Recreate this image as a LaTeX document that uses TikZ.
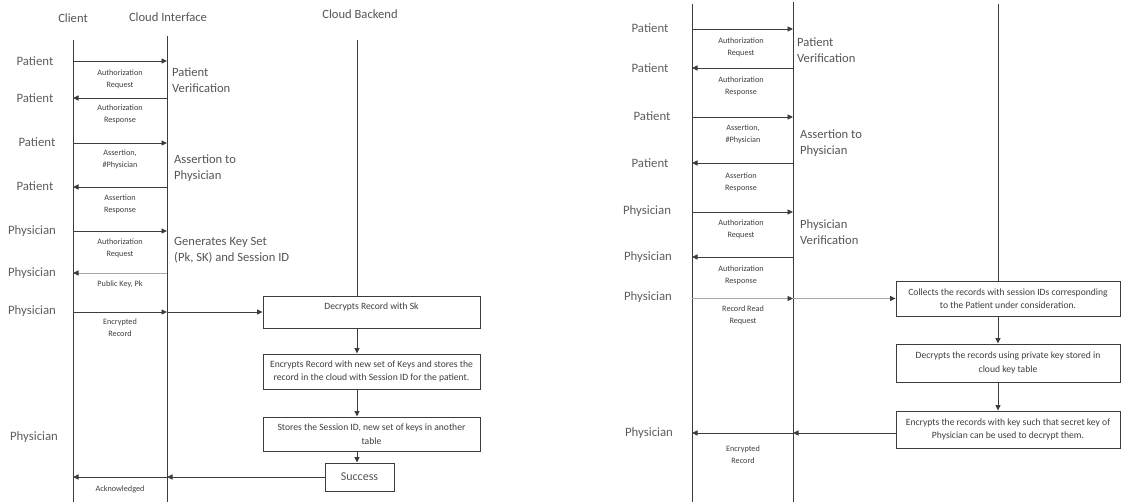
\documentclass[tikz,border=0pt]{standalone}
\usepackage{fontspec}
\setmainfont{Carlito}
\usetikzlibrary{arrows.meta}
\definecolor{linec}{HTML}{3C3C3C}
\definecolor{lightc}{HTML}{A8A8A8}
\definecolor{rolec}{HTML}{5E5E5E}
\definecolor{lblc}{HTML}{3F3F3F}
\definecolor{notec}{HTML}{555555}
\begin{document}
\begin{tikzpicture}[x=1pt,y=-1pt,
 life/.style={draw=linec,line width=0.9pt},
 msg/.style={draw=linec,line width=0.9pt,-{Triangle[length=5.5pt,width=5pt,color=linec]}},
 msglight/.style={msg,draw=lightc},
 role/.style={text=rolec,font=\fontsize{12.8}{14}\selectfont,inner sep=0pt},
 lbl/.style={text=lblc,font=\fontsize{8.2}{11.8}\selectfont,align=center,inner sep=0pt},
 note/.style={text=notec,font=\fontsize{12.6}{16}\selectfont,align=left,anchor=west,inner sep=0pt},
 head/.style={text=notec,font=\fontsize{12.6}{14}\selectfont,inner sep=0pt},
 box/.style={draw=linec,line width=0.9pt,fill=white,align=center,text=lblc,font=\fontsize{9.6}{13.5}\selectfont,inner sep=0pt}]
\useasboundingbox (0,0) rectangle (1121,502);

% ================= LEFT DIAGRAM =================
\node[head] (hC) at (73,18) {Client};
\node[head] (hI) at (168,17) {Cloud Interface};
\node[head] (hB) at (360,14) {Cloud Backend};

\coordinate (Lc0) at (73,40);  \coordinate (Lc1) at (73,502);
\coordinate (Li0) at (167,36); \coordinate (Li1) at (167,502);
\coordinate (Lb0) at (357,40);

\node[box,minimum width=217pt,minimum height=32pt] (LB1) at (371.5,312) {\raisebox{12pt}{Decrypts Record with Sk}};
\node[box,minimum width=217pt,minimum height=35pt] (LB2) at (371.5,371.5) {Encrypts Record with new set of Keys and stores the\\record in the cloud with Session ID for the patient.};
\node[box,minimum width=217pt,minimum height=34pt] (LB3) at (371.5,434) {Stores the Session ID, new set of keys in another\\table};
\node[box,minimum width=69pt,minimum height=28pt,font=\fontsize{12}{14}\selectfont,text=notec] (LS) at (359.5,477) {Success};

\draw[life] (Lc0) -- (Lc1);
\draw[life] (Li0) -- (Li1);
\draw[life] (Lb0) -- (Lb0 |- LB1.north);
\draw[msg] (LB1.south -| Lb0) -- (LB2.north -| Lb0);
\draw[msg] (LB2.south -| Lb0) -- (LB3.north -| Lb0);
\draw[msg] (LB3.south -| Lb0) -- (LS.north -| Lb0);

% rows
\foreach \n/\y in {1/61,2/98,3/143,4/187,5/231,6/273,7/312,8/477}{
  \coordinate (lc\n) at (73,\y);
  \coordinate (li\n) at (167,\y);
}
\draw[msg] (lc1) -- (li1);
\draw[msg] (li2) -- (lc2);
\draw[msg] (lc3) -- (li3);
\draw[msg] (li4) -- (lc4);
\draw[msg] (lc5) -- (li5);
\draw[msglight] (li6) -- (lc6);
\draw[msg] (lc7) -- (li7);
\draw[msg] (li7) -- (LB1.west);
\draw[msg] (LS.west) -- (li8);
\draw[msg] (li8) -- (lc8);

\node[role] (lp1) at (35,61) {Patient};
\node[role] (lp2) at (35,98) {Patient};
\node[role] (lp3) at (37,142) {Patient};
\node[role] (lp4) at (35,186) {Patient};
\node[role] (lp5) at (32,231) {Physician};
\node[role] (lp6) at (32,273) {Physician};
\node[role] (lp7) at (32,311) {Physician};
\node[role] (lp8) at (34,437) {Physician};

\node[lbl] (ll1) at (120,79) {Authorization\\Request};
\node[lbl] (ll2) at (120,114) {Authorization\\Response};
\node[lbl] (ll3) at (120,159) {Assertion,\\\#Physician};
\node[lbl] (ll4) at (120,204) {Assertion\\Response};
\node[lbl] (ll5) at (120,248) {Authorization\\Request};
\node[lbl] (ll6) at (120,284) {Public Key, Pk};
\node[lbl] (ll7) at (120,328) {Encrypted\\Record};
\node[lbl] (ll8) at (120,489) {Acknowledged};

\node[note] (ln1) at (172,80) {Patient\\Verification};
\node[note] (ln2) at (174,168) {Assertion to\\Physician};
\node[note] (ln3) at (174,250) {Generates Key Set\\(Pk, SK) and Session ID};

% ================= RIGHT DIAGRAM =================
\coordinate (Rc0) at (692,4);  \coordinate (Rc1) at (692,502);
\coordinate (Ri0) at (793,2);  \coordinate (Ri1) at (793,502);
\coordinate (Rb0) at (998,4);

\node[box,minimum width=224pt,minimum height=35pt] (RB1) at (1008,298.5) {Collects the records with session IDs corresponding\\to the Patient under consideration.};
\node[box,minimum width=224pt,minimum height=38pt] (RB2) at (1008,363) {Decrypts the records using private key stored in\\cloud key table};
\node[box,minimum width=224pt,minimum height=37pt] (RB3) at (1008,429.5) {Encrypts the records with key such that secret key of\\Physician can be used to decrypt them.};

\draw[life] (Rc0) -- (Rc1);
\draw[life] (Ri0) -- (Ri1);
\draw[life] (Rb0) -- (Rb0 |- RB1.north);
\draw[msg] (RB1.south -| Rb0) -- (RB2.north -| Rb0);
\draw[msg] (RB2.south -| Rb0) -- (RB3.north -| Rb0);

\foreach \n/\y in {1/29,2/68,3/117,4/163,5/212,6/257,7/298.5,8/433}{
  \coordinate (rc\n) at (692,\y);
  \coordinate (ri\n) at (793,\y);
}
\draw[msg] (rc1) -- (ri1);
\draw[msg] (ri2) -- (rc2);
\draw[msg] (rc3) -- (ri3);
\draw[msg] (ri4) -- (rc4);
\draw[msg] (rc5) -- (ri5);
\draw[msg] (ri6) -- (rc6);
\draw[msglight] (rc7) -- (ri7);
\draw[msglight] (ri7) -- (RB1.west);
\draw[msg] (RB3.west |- ri8) -- (ri8);
\draw[msg] (ri8) -- (rc8);

\node[role] (rp1) at (650,28) {Patient};
\node[role] (rp2) at (650,68) {Patient};
\node[role] (rp3) at (652,116) {Patient};
\node[role] (rp4) at (650,163) {Patient};
\node[role] (rp5) at (647,211) {Physician};
\node[role] (rp6) at (648,257) {Physician};
\node[role] (rp7) at (648,297) {Physician};
\node[role] (rp8) at (649,433) {Physician};

\node[lbl] (rl1) at (741,47) {Authorization\\Request};
\node[lbl] (rl2) at (741,86) {Authorization\\Response};
\node[lbl] (rl3) at (743,134) {Assertion,\\\#Physician};
\node[lbl] (rl4) at (741,182) {Assertion\\Response};
\node[lbl] (rl5) at (741,229) {Authorization\\Request};
\node[lbl] (rl6) at (741,275) {Authorization\\Response};
\node[lbl] (rl7) at (743,315) {Record Read\\Request};
\node[lbl] (rl8) at (743,455) {Encrypted\\Record};

\node[note] (rn1) at (797,50) {Patient\\Verification};
\node[note] (rn2) at (800,143) {Assertion to\\Physician};
\node[note] (rn3) at (800,232) {Physician\\Verification};
\end{tikzpicture}
\end{document}
